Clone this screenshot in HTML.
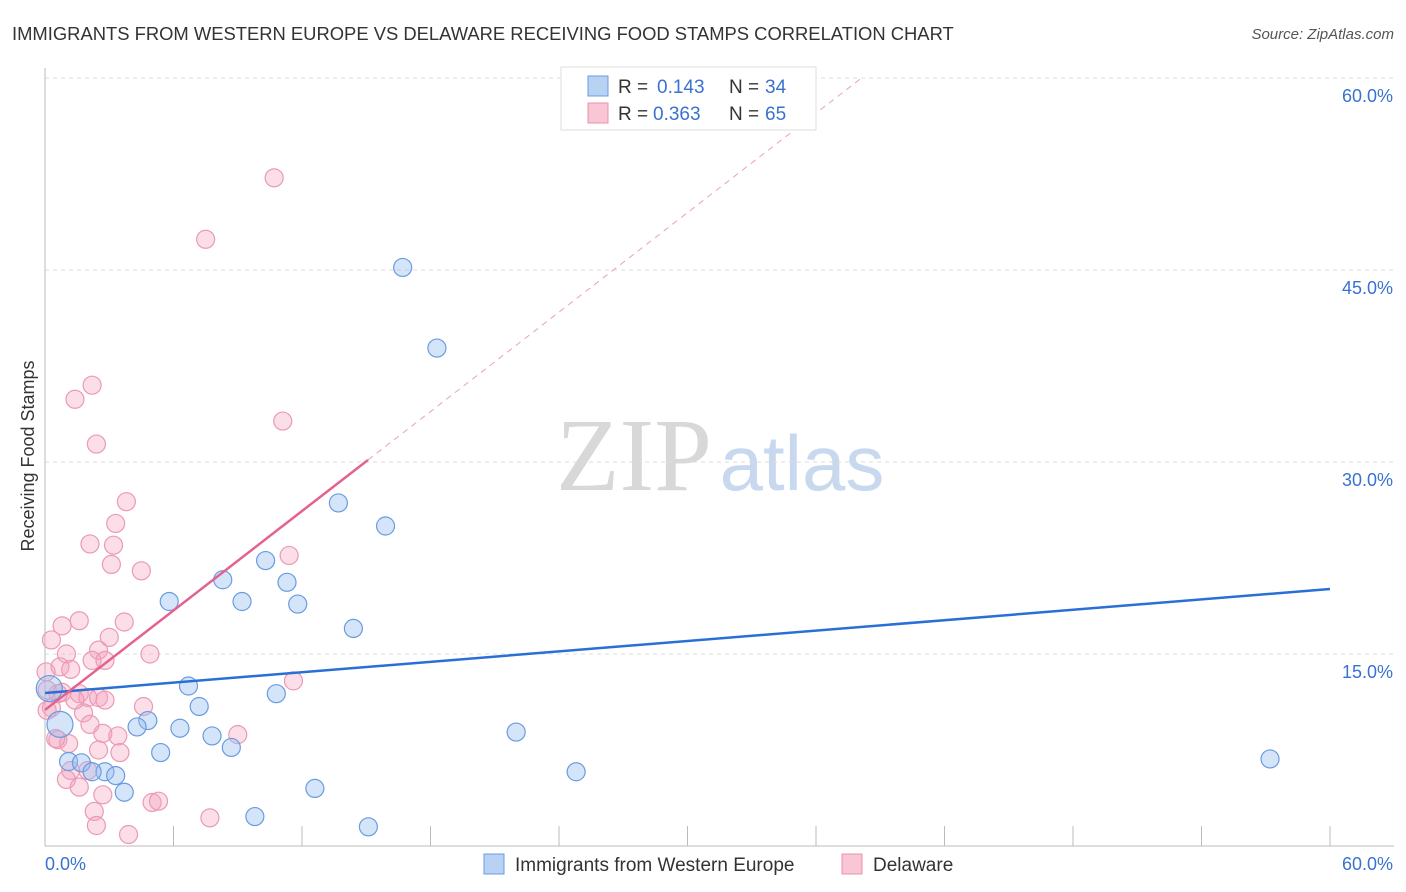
<!DOCTYPE html>
<html><head><meta charset="utf-8"><style>
body{margin:0;background:#fff;font-family:"Liberation Sans",sans-serif}
svg{display:block}
</style></head><body>
<svg id="chart" width="1406" height="892">
<text x="12" y="40" font-size="18.4" fill="#333">IMMIGRANTS FROM WESTERN EUROPE VS DELAWARE RECEIVING FOOD STAMPS CORRELATION CHART</text>
<text x="1394" y="39" font-size="15" fill="#555" font-style="italic" text-anchor="end">Source: ZipAtlas.com</text>
<text transform="translate(34,456) rotate(-90)" font-size="18" fill="#333" text-anchor="middle">Receiving Food Stamps</text>
<g><text x="634" y="490" font-size="104" fill="#d8d8d8" font-family="Liberation Serif,serif" text-anchor="middle">ZIP</text><text x="802" y="490" font-size="78" fill="#c8d8ef" text-anchor="middle">atlas</text></g>
<g id="grid"></g><g id="marks"></g>
<g>
<rect x="561" y="67" width="255" height="63" fill="#fff" stroke="#ddd"/>
<rect x="588" y="76" width="20" height="20" fill="#b8d2f4" stroke="#6a9be0"/>
<rect x="588" y="103" width="20" height="20" fill="#f9c6d6" stroke="#e890ab"/>
<text x="618" y="93" font-size="19" fill="#333">R =</text><text x="657" y="93" font-size="19" fill="#3a72d0">0.143</text>
<text x="729" y="93" font-size="19" fill="#333">N =</text><text x="765" y="93" font-size="19" fill="#3a72d0">34</text>
<text x="618" y="120" font-size="19" fill="#333">R =</text><text x="653" y="120" font-size="19" fill="#3a72d0">0.363</text>
<text x="729" y="120" font-size="19" fill="#333">N =</text><text x="765" y="120" font-size="19" fill="#3a72d0">65</text>
</g>
<g>
<rect x="484" y="854" width="20" height="20" fill="#b8d2f4" stroke="#6a9be0"/>
<text x="515" y="871" font-size="19" fill="#333">Immigrants from Western Europe</text>
<rect x="842" y="854" width="20" height="20" fill="#f9c6d6" stroke="#e890ab"/>
<text x="873" y="871" font-size="19" fill="#333">Delaware</text>
</g>
</svg>
<script>
const yTicks=[15,30,45,60];
const yTickLabels=["15.0%","30.0%","45.0%","60.0%"];
const xEndLabels=["0.0%","60.0%"];
const blueX=[16.7,18.3,13.7,15.9,10.3,8.3,11.3,5.8,9.2,11.8,14.4,6.7,10.8,7.2,4.8,4.3,6.3,7.8,5.4,8.7,1.1,1.7,2.8,2.2,3.3,3.7,12.6,9.8,15.1,22.0,24.8,57.2,0.7,0.2];
const blueY=[45.2,38.9,26.8,25.0,22.3,20.8,20.6,19.1,19.1,18.9,17.0,12.5,11.9,10.9,9.8,9.3,9.2,8.6,7.3,7.7,6.6,6.5,5.8,5.8,5.5,4.2,4.5,2.3,1.5,8.9,5.8,6.8,9.5,12.3];
const pinkX=[10.7,7.5,2.2,1.4,2.4,11.1,3.8,3.3,2.1,3.2,11.4,3.1,4.5,1.6,3.7,0.8,0.3,3.0,1.0,2.5,2.2,2.8,4.9,0.7,1.2,0.05,11.6,0.6,0.1,0.8,1.6,2.0,2.5,2.8,1.8,4.6,0.3,0.1,2.1,3.4,9.0,0.6,1.1,2.7,2.5,3.5,2.0,1.2,1.0,1.6,2.7,5.0,5.3,2.3,2.4,7.7,3.9,1.4,0.5];
const pinkY=[52.2,47.4,36.0,34.9,31.4,33.2,26.9,25.2,23.6,23.5,22.7,22.0,21.5,17.6,17.5,17.2,16.1,16.3,15.0,15.3,14.5,14.5,15.0,14.0,13.8,13.6,12.9,11.9,12.2,12.0,11.9,11.6,11.6,11.4,10.4,10.9,10.8,10.6,9.5,8.6,8.7,8.3,8.0,8.8,7.5,7.3,5.9,5.9,5.2,4.6,4.0,3.4,3.5,2.7,1.6,2.2,0.9,11.4,8.4];
const blueTrend=[11.95,20.08];
const pinkTrend=[10.63,1.295];
const X=v=>45+v/60*1285, Y=v=>846-v/15*192;
const NS="http://www.w3.org/2000/svg";
function mk(t,a,p){const e=document.createElementNS(NS,t);for(const k in a)e.setAttribute(k,a[k]);p.appendChild(e);return e;}
const grid=document.getElementById('grid'),marks=document.getElementById('marks');
yTicks.forEach((t,i)=>{
 const l=mk('line',{x1:45,x2:1394,y1:Y(t),y2:Y(t),stroke:'#ddd','stroke-dasharray':'4,4'},grid);
 
 
 const tx=mk('text',{x:1393,y:Y(t)+24,'font-size':18,fill:'#3a72d0','text-anchor':'end'},grid);tx.textContent=yTickLabels[i];
 
 
});
mk('line',{x1:45,x2:45,y1:68,y2:846,stroke:'#bbb'},grid);
mk('line',{x1:45,x2:1394,y1:846,y2:846,stroke:'#bbb'},grid);
for(let i=1;i<=10;i++){const l=mk('line',{x1:X(i*6),x2:X(i*6),y1:826,y2:846,stroke:'#bbb'},grid);
 
 }
const a=mk('text',{x:45,y:870,'font-size':18,fill:'#3a72d0'},grid);a.textContent=xEndLabels[0];


const b=mk('text',{x:1393,y:870,'font-size':18,fill:'#3a72d0','text-anchor':'end'},grid);b.textContent=xEndLabels[1];


pinkX.forEach((x,i)=>{const c=mk('circle',{cx:X(x),cy:Y(pinkY[i]),r:9,fill:'rgba(244,160,190,0.35)',stroke:'#eb9ab4','stroke-width':1.2},marks);
 
 });
blueX.forEach((x,i)=>{const c=mk('circle',{cx:X(x),cy:Y(blueY[i]),r:(i>=32?13:9),fill:'rgba(150,190,240,0.4)',stroke:'#6a9be0','stroke-width':1.2},marks);
 
 });
const bl=mk('line',{x1:X(0),y1:Y(blueTrend[0]),x2:X(60),y2:Y(blueTrend[1]),stroke:'#2a6fd6','stroke-width':2.5},marks);


const xs=15.08,xe=(60-pinkTrend[0])/pinkTrend[1];
const pl=mk('line',{x1:X(0),y1:Y(pinkTrend[0]),x2:X(xs),y2:Y(pinkTrend[0]+pinkTrend[1]*xs),stroke:'#e4628d','stroke-width':2.5},marks);


const pd=mk('line',{x1:X(xs),y1:Y(pinkTrend[0]+pinkTrend[1]*xs),x2:X(xe),y2:Y(60),stroke:'#eaa0b8','stroke-width':1,'stroke-dasharray':'6,5'},marks);


</script>
</body></html>
